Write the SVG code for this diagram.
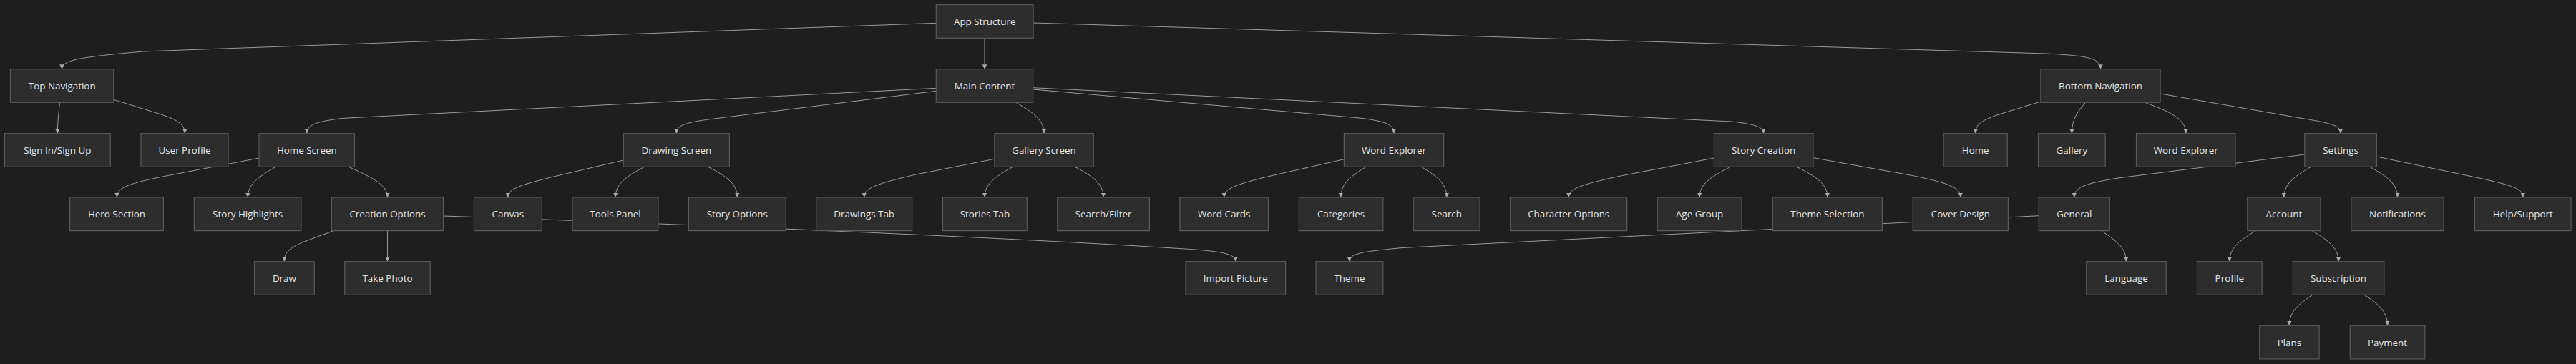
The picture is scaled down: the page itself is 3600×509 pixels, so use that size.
<svg xmlns="http://www.w3.org/2000/svg" width="3600" height="509" viewBox="0 0 3600 509">
<style>
.n rect{fill:#2d2d2d;stroke:#5a5a5a;stroke-width:1.2}
.n text{fill:#e6e6e6;font-family:"Open Sans","Noto Sans","Liberation Sans",sans-serif;font-size:13.4px;text-anchor:middle;dominant-baseline:central}
.e path{fill:none;stroke:#9a9a9a;stroke-width:1;marker-end:url(#arr)}
</style>
<defs>
<marker id="arr" viewBox="0 0 10 10" refX="10" refY="5" markerWidth="6.5" markerHeight="6.5" markerUnits="userSpaceOnUse" orient="auto">
<path d="M0,0 L10,5 L0,10 z" fill="#a8a8a8"/>
</marker>
</defs>
<rect width="3600" height="509" fill="#1e1e1e"/>
<g id="connectors" class="e">
<path d="M1308.3,32.3 L200,72 C110,80 86.5,84 86.5,96.7"/>
<path d="M1376,53.3 L1376,96.7"/>
<path d="M1444,32 L2860,75 C2920,78 2935.5,82 2935.5,96.7"/>
<path d="M83.4,143.3 C82,160 80.4,170 80.4,186.7"/>
<path d="M158.8,139.3 L225,160 C250,168 258.3,175 258.3,186.7"/>
<path d="M1308.3,123.3 L480,165.3 C440,170 428.8,175 428.8,186.7"/>
<path d="M1308.3,127.3 L990,167 C955,172 945.4,176 945.4,186.7"/>
<path d="M1420,143.3 C1445,158 1459,168 1459,186.7"/>
<path d="M1443.7,125 L1900,165 C1940,170 1948,175 1948,186.7"/>
<path d="M1443.7,122.7 L2420,170 C2455,174 2464.5,178 2464.5,186.7"/>
<path d="M362,221 L240,244.5 C180,256 163.4,262 163.4,276"/>
<path d="M385.3,233.3 C360,248 346.3,258 346.3,276"/>
<path d="M487.1,233.3 C525,250 541.5,260 541.5,276"/>
<path d="M466,322.7 L430,336 C405,346 397.4,352 397.4,365.7"/>
<path d="M541.5,322.7 L541.5,365.7"/>
<path d="M619.6,302 C1000,315 1400,332 1640,347 C1710,351 1726.8,355 1726.8,365.7"/>
<path d="M871.3,224 L780,245.5 C725,259 709.9,264 709.9,276"/>
<path d="M900.4,233.3 C873,248 860.1,258 860.1,276"/>
<path d="M989.6,233.3 C1018,248 1030.3,258 1030.3,276"/>
<path d="M1389.8,222.3 L1280,244 C1220,258 1207.7,264 1207.7,276"/>
<path d="M1415.4,233.3 C1389,248 1376,258 1376,276"/>
<path d="M1502.3,233.3 C1530,248 1542,258 1542,276"/>
<path d="M1878.4,222.7 L1780,245 C1725,258 1710.7,264 1710.7,276"/>
<path d="M1909,233.3 C1885,248 1873.9,258 1873.9,276"/>
<path d="M1986.4,233.3 C2011,248 2021.8,258 2021.8,276"/>
<path d="M2395.4,221 L2270,245 C2208,258 2192.2,264 2192.2,276"/>
<path d="M2418.4,233.3 C2389,248 2375.1,258 2375.1,276"/>
<path d="M2511,233.3 C2540,248 2553.9,258 2553.9,276"/>
<path d="M2534.3,220.7 L2670,245 C2730,257 2739.8,264 2739.8,276"/>
<path d="M2851.9,142 L2800,158 C2768,168 2760.7,174 2760.7,186.7"/>
<path d="M2913.9,144 C2902,158 2895.4,168 2895.4,186.7"/>
<path d="M2999,144 C3038,158 3054.7,168 3054.7,186.7"/>
<path d="M3019.1,131 L3220,166 C3262,173 3271,176 3271,186.7"/>
<path d="M3220.8,216 L2960,249 C2910,257 2898.8,263 2898.8,276"/>
<path d="M3229.6,233.3 C3204,248 3191.9,258 3191.9,276"/>
<path d="M3311.9,233.3 C3338,248 3350.5,258 3350.5,276"/>
<path d="M3321.4,219 L3460,248 C3515,260 3525.8,264 3525.8,276"/>
<path d="M2936.5,322.7 C2960,338 2971.3,348 2971.3,365.7"/>
<path d="M2849.2,301.7 L1960,346.5 C1900,352 1885.9,355 1885.9,365.7"/>
<path d="M3152.3,322.7 C3127,338 3115.8,348 3115.8,365.7"/>
<path d="M3231.1,322.7 C3257,338 3268,348 3268,365.7"/>
<path d="M3231.9,412.3 C3208,428 3199.4,438 3199.4,455.3"/>
<path d="M3304.2,412.3 C3328,428 3336.5,438 3336.5,455.3"/>
</g>
<g id="app-structure" class="n"><rect x="1308.3" y="6.7" width="135.8" height="46.6"/><text x="1376.2" y="30">App Structure</text></g>
<g id="top-navigation" class="n"><rect x="14.5" y="96.7" width="144.3" height="46.6"/><text x="86.7" y="120">Top Navigation</text></g>
<g id="main-content" class="n"><rect x="1308.3" y="96.7" width="135.4" height="46.6"/><text x="1376" y="120">Main Content</text></g>
<g id="bottom-navigation" class="n"><rect x="2851.9" y="96.7" width="167.2" height="46.6"/><text x="2935.5" y="120">Bottom Navigation</text></g>
<g id="sign-in" class="n"><rect x="6.5" y="186.7" width="147.7" height="46.6"/><text x="80.4" y="210">Sign In/Sign Up</text></g>
<g id="user-profile" class="n"><rect x="197" y="186.7" width="122" height="46.6"/><text x="258" y="210">User Profile</text></g>
<g id="home-screen" class="n"><rect x="362" y="186.7" width="133.5" height="46.6"/><text x="428.8" y="210">Home Screen</text></g>
<g id="drawing-screen" class="n"><rect x="871.3" y="186.7" width="148.1" height="46.6"/><text x="945.4" y="210">Drawing Screen</text></g>
<g id="gallery-screen" class="n"><rect x="1389.8" y="186.7" width="138.5" height="46.6"/><text x="1459" y="210">Gallery Screen</text></g>
<g id="word-explorer" class="n"><rect x="1878.4" y="186.7" width="139.3" height="46.6"/><text x="1948" y="210">Word Explorer</text></g>
<g id="story-creation" class="n"><rect x="2395.4" y="186.7" width="138.5" height="46.6"/><text x="2464.6" y="210">Story Creation</text></g>
<g id="nav-home" class="n"><rect x="2716.1" y="186.7" width="89.1" height="46.6"/><text x="2760.7" y="210">Home</text></g>
<g id="nav-gallery" class="n"><rect x="2848.5" y="186.7" width="93.7" height="46.6"/><text x="2895.4" y="210">Gallery</text></g>
<g id="nav-word-explorer" class="n"><rect x="2985.5" y="186.7" width="138.5" height="46.6"/><text x="3054.7" y="210">Word Explorer</text></g>
<g id="settings" class="n"><rect x="3220.8" y="186.7" width="100.6" height="46.6"/><text x="3271.1" y="210">Settings</text></g>
<g id="hero-section" class="n"><rect x="97.6" y="276" width="130.8" height="46.6"/><text x="163" y="299.3">Hero Section</text></g>
<g id="story-highlights" class="n"><rect x="271.3" y="276" width="149.6" height="46.6"/><text x="346.1" y="299.3">Story Highlights</text></g>
<g id="creation-options" class="n"><rect x="463.4" y="276" width="156.1" height="46.6"/><text x="541.5" y="299.3">Creation Options</text></g>
<g id="canvas" class="n"><rect x="662.4" y="276" width="94.9" height="46.6"/><text x="709.9" y="299.3">Canvas</text></g>
<g id="tools-panel" class="n"><rect x="800.1" y="276" width="119.8" height="46.6"/><text x="860" y="299.3">Tools Panel</text></g>
<g id="story-options" class="n"><rect x="962.4" y="276" width="135.8" height="46.6"/><text x="1030.3" y="299.3">Story Options</text></g>
<g id="drawings-tab" class="n"><rect x="1140.7" y="276" width="133.9" height="46.6"/><text x="1207.7" y="299.3">Drawings Tab</text></g>
<g id="stories-tab" class="n"><rect x="1317.5" y="276" width="117.8" height="46.6"/><text x="1376.4" y="299.3">Stories Tab</text></g>
<g id="search-filter" class="n"><rect x="1477.8" y="276" width="128.6" height="46.6"/><text x="1542.1" y="299.3">Search/Filter</text></g>
<g id="word-cards" class="n"><rect x="1648.9" y="276" width="123.6" height="46.6"/><text x="1710.7" y="299.3">Word Cards</text></g>
<g id="categories" class="n"><rect x="1815.3" y="276" width="117.5" height="46.6"/><text x="1874" y="299.3">Categories</text></g>
<g id="search" class="n"><rect x="1975.3" y="276" width="92.9" height="46.6"/><text x="2021.8" y="299.3">Search</text></g>
<g id="character-options" class="n"><rect x="2110.7" y="276" width="163" height="46.6"/><text x="2192.2" y="299.3">Character Options</text></g>
<g id="age-group" class="n"><rect x="2316.2" y="276" width="117.8" height="46.6"/><text x="2375.1" y="299.3">Age Group</text></g>
<g id="theme-selection" class="n"><rect x="2477.3" y="276" width="153.1" height="46.6"/><text x="2553.9" y="299.3">Theme Selection</text></g>
<g id="cover-design" class="n"><rect x="2673.2" y="276" width="133.2" height="46.6"/><text x="2739.8" y="299.3">Cover Design</text></g>
<g id="general" class="n"><rect x="2849.2" y="276" width="99.1" height="46.6"/><text x="2898.8" y="299.3">General</text></g>
<g id="account" class="n"><rect x="3140.8" y="276" width="102.2" height="46.6"/><text x="3191.9" y="299.3">Account</text></g>
<g id="notifications" class="n"><rect x="3285.8" y="276" width="129.4" height="46.6"/><text x="3350.5" y="299.3">Notifications</text></g>
<g id="help-support" class="n"><rect x="3458.4" y="276" width="134.7" height="46.6"/><text x="3525.8" y="299.3">Help/Support</text></g>
<g id="draw" class="n"><rect x="355.5" y="365.7" width="83.8" height="46.6"/><text x="397.4" y="389">Draw</text></g>
<g id="take-photo" class="n"><rect x="481.8" y="365.7" width="119.4" height="46.6"/><text x="541.5" y="389">Take Photo</text></g>
<g id="import-picture" class="n"><rect x="1656.9" y="365.7" width="139.7" height="46.6"/><text x="1726.8" y="389">Import Picture</text></g>
<g id="theme" class="n"><rect x="1839" y="365.7" width="93.8" height="46.6"/><text x="1885.9" y="389">Theme</text></g>
<g id="language" class="n"><rect x="2915.8" y="365.7" width="111.4" height="46.6"/><text x="2971.5" y="389">Language</text></g>
<g id="profile" class="n"><rect x="3070.4" y="365.7" width="90.7" height="46.6"/><text x="3115.8" y="389">Profile</text></g>
<g id="subscription" class="n"><rect x="3204.3" y="365.7" width="127.5" height="46.6"/><text x="3268" y="389">Subscription</text></g>
<g id="plans" class="n"><rect x="3157.7" y="455.3" width="83.4" height="46.6"/><text x="3199.4" y="478.6">Plans</text></g>
<g id="payment" class="n"><rect x="3284.3" y="455.3" width="104.5" height="46.6"/><text x="3336.5" y="478.6">Payment</text></g>
</svg>
